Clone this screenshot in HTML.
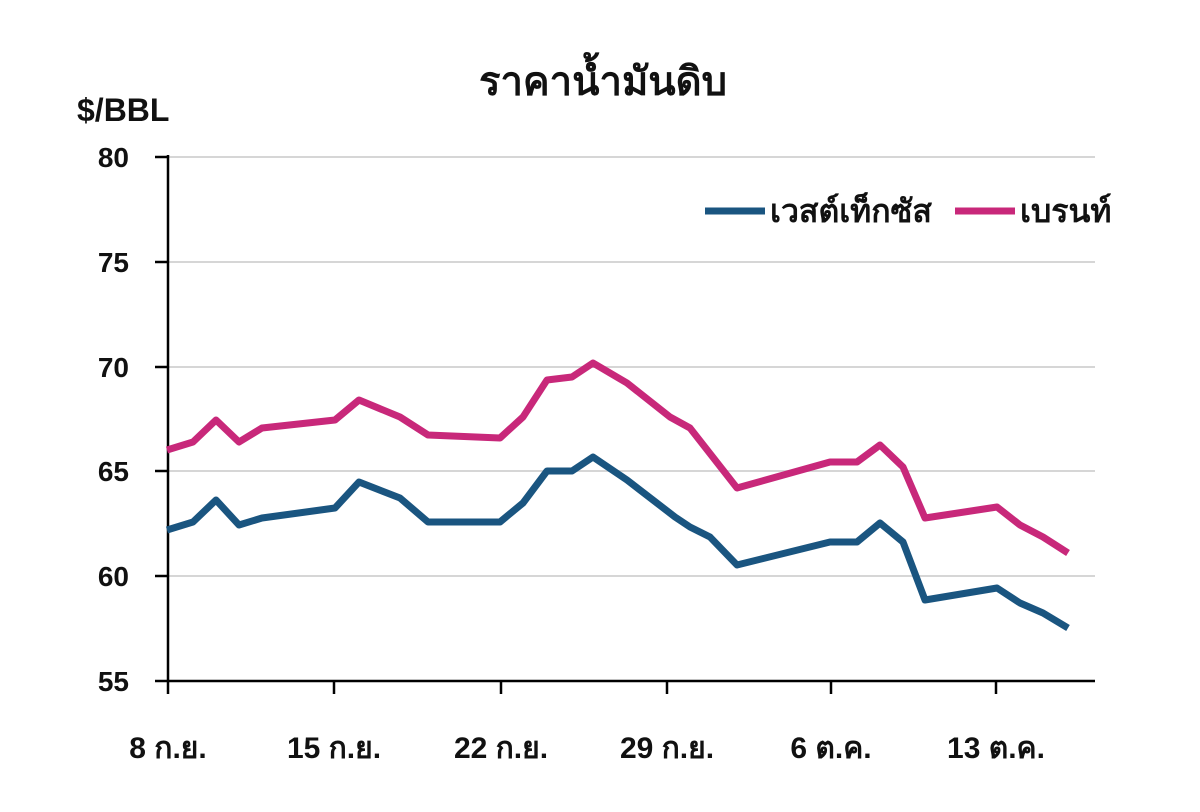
<!DOCTYPE html>
<html><head><meta charset="utf-8"><style>
body{margin:0;background:#fff;}
svg{display:block;font-family:"Liberation Sans","DejaVu Sans",sans-serif;font-weight:bold;}
</style></head><body>
<svg width="1200" height="812" viewBox="0 0 1200 812">
<rect width="1200" height="812" fill="#fff"/>
<text x="603" y="95" font-size="40" text-anchor="middle" fill="#111">ราคาน้ำมันดิบ</text>
<text x="77" y="121" font-size="32" fill="#111">$/BBL</text>
<g stroke="#d6d6d6" stroke-width="2">
<line x1="168" y1="157" x2="1095" y2="157"/>
<line x1="168" y1="262" x2="1095" y2="262"/>
<line x1="168" y1="367" x2="1095" y2="367"/>
<line x1="168" y1="471" x2="1095" y2="471"/>
<line x1="168" y1="576" x2="1095" y2="576"/>
</g>
<g stroke="#000" stroke-width="2.5">
<line x1="168" y1="155" x2="168" y2="682"/>
<line x1="168" y1="681" x2="1095" y2="681"/>
<line x1="155" y1="157" x2="168" y2="157"/>
<line x1="155" y1="262" x2="168" y2="262"/>
<line x1="155" y1="367" x2="168" y2="367"/>
<line x1="155" y1="471" x2="168" y2="471"/>
<line x1="155" y1="576" x2="168" y2="576"/>
<line x1="155" y1="681" x2="168" y2="681"/>
<line x1="168" y1="681" x2="168" y2="694"/>
<line x1="334" y1="681" x2="334" y2="694"/>
<line x1="501" y1="681" x2="501" y2="694"/>
<line x1="667" y1="681" x2="667" y2="694"/>
<line x1="831" y1="681" x2="831" y2="694"/>
<line x1="996" y1="681" x2="996" y2="694"/>
</g>
<g font-size="28" text-anchor="end" fill="#111">
<text x="129" y="167">80</text>
<text x="129" y="272">75</text>
<text x="129" y="377">70</text>
<text x="129" y="481">65</text>
<text x="129" y="586">60</text>
<text x="129" y="691">55</text>
</g>
<g font-size="30" text-anchor="middle" fill="#111">
<text x="168" y="758">8 ก.ย.</text>
<text x="334" y="758">15 ก.ย.</text>
<text x="501" y="758">22 ก.ย.</text>
<text x="667" y="758">29 ก.ย.</text>
<text x="831" y="758">6 ต.ค.</text>
<text x="996" y="758">13 ต.ค.</text>
</g>
<g fill="none" stroke-width="7" stroke-linejoin="round">
<polyline stroke="#c8287a" points="167,450 193,442 216,420 239,442 262,428 335,420 359,400 400,417 428,435 500,438 523,417 547,380 572,377 593,363 627,383 670,417 690,428 737,488 830,462 857,462 880,445 903,467 925,518 997,507 1020,525 1043,537 1068,553"/>
<polyline stroke="#1a5580" points="167,530 193,522 216,500 239,525 262,518 335,508 359,482 400,498 428,522 500,522 523,503 547,471 572,471 593,457 627,480 675,517 690,527 710,537 737,565 830,542 857,542 880,523 903,542 925,600 997,588 1020,603 1043,613 1068,628"/>
</g>
<line x1="705" y1="211" x2="765" y2="211" stroke="#1a5580" stroke-width="7"/>
<text x="770" y="222" font-size="32" fill="#111">เวสต์เท็กซัส</text>
<line x1="955" y1="211" x2="1015" y2="211" stroke="#c8287a" stroke-width="7"/>
<text x="1020" y="222" font-size="32" fill="#111">เบรนท์</text>
</svg>
</body></html>
